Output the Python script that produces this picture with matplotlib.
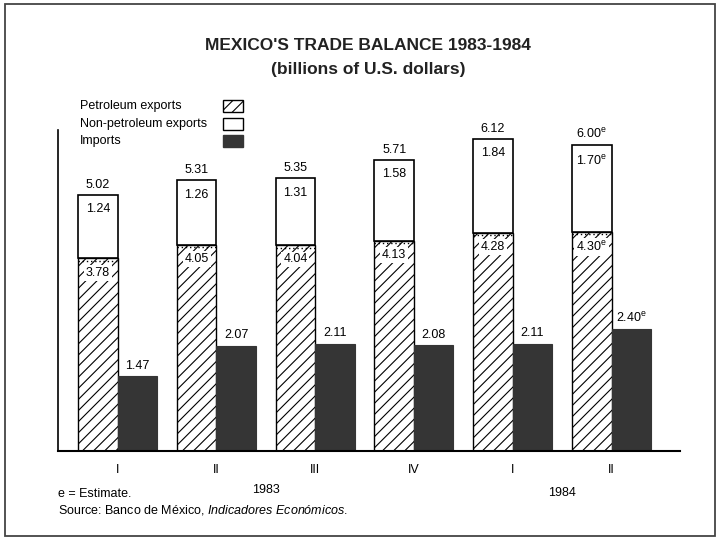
import numpy as np
import matplotlib.pyplot as plt
from matplotlib.patches import Rectangle

plt.rcParams['font.family'] = ['Liberation Sans', 'DejaVu Sans']
plt.rcParams['mathtext.fontset'] = 'custom'
plt.rcParams['mathtext.rm'] = 'Liberation Sans'
plt.rcParams['mathtext.it'] = 'Liberation Sans:italic'
plt.rcParams['hatch.linewidth'] = 0.8

# data (billions of U.S. dollars)
quarters = ['I', 'II', 'III', 'IV', 'I', 'II']
years = ['1983', '1984']
petroleum = [3.78, 4.05, 4.04, 4.13, 4.28, 4.30]
non_petroleum = [1.24, 1.26, 1.31, 1.58, 1.84, 1.70]
totals = [5.02, 5.31, 5.35, 5.71, 6.12, 6.00]
imports = [1.47, 2.07, 2.11, 2.08, 2.11, 2.40]
estimate = [False, False, False, False, False, True]
legend_labels = ['Petroleum exports', 'Non-petroleum exports', 'Imports']

dark = '#353535'

def fmt(v, est):
    s = f'{v:.2f}'
    if est:
        s += r'$^{\mathrm{e}}$'
    return s

fig = plt.figure(figsize=(7.2, 5.41), dpi=100)
ax = fig.add_axes([0.081, 0.166, 0.863, 0.594])

x = np.arange(len(quarters))
w = 0.4
xs = x - w / 2
xi = x + w / 2

ax.bar(xs, petroleum, w, color='white', edgecolor='black', hatch='///', linewidth=1.0)
ax.bar(xs, non_petroleum, w, bottom=petroleum, color='white', edgecolor='black', linewidth=1.2)
ax.bar(xi, imports, w, color=dark, edgecolor=dark, linewidth=0.8)

# dotted boundary under the non-petroleum part
for i in range(len(x)):
    ax.plot([xs[i] - w / 2, xs[i] + w / 2], [petroleum[i] - 0.05] * 2,
            ls=(0, (1, 2)), color='black', lw=1.0)

fs = 9
for i in range(len(x)):
    ax.annotate(fmt(totals[i], estimate[i]), (xs[i], totals[i]), xytext=(0, 3),
                textcoords='offset points', ha='center', va='bottom', fontsize=fs)
    ax.annotate(fmt(non_petroleum[i], estimate[i]), (xs[i], totals[i]), xytext=(0, -6),
                textcoords='offset points', ha='center', va='top', fontsize=fs)
    ax.annotate(fmt(petroleum[i], estimate[i]), (xs[i], petroleum[i]), xytext=(0, -6),
                textcoords='offset points', ha='center', va='top', fontsize=fs,
                bbox=dict(boxstyle='square,pad=0.15', fc='white', ec='none'))
    ax.annotate(fmt(imports[i], estimate[i]), (xi[i], imports[i]), xytext=(0, 3),
                textcoords='offset points', ha='center', va='bottom', fontsize=fs)

ax.set_xlim(-0.6, 5.69)
ax.set_ylim(0, 6.3)
ax.spines['top'].set_visible(False)
ax.spines['right'].set_visible(False)
ax.spines['left'].set_linewidth(1.2)
ax.spines['bottom'].set_linewidth(1.5)
ax.set_yticks([])
ax.set_xticks(x)
ax.set_xticklabels(quarters, fontsize=fs)
ax.tick_params(axis='x', length=0, pad=9)

ax.text(1.5, -0.77, years[0], ha='center', va='center', fontsize=fs)
ax.text(4.5, -0.81, years[1], ha='center', va='center', fontsize=fs)

# legend drawn by hand: text on the left, swatches in a column on the right
leg_y = [0.804, 0.771, 0.739]
leg_style = [dict(fc='white', ec='black', hatch='///'),
             dict(fc='white', ec='black'),
             dict(fc=dark, ec=dark)]
for lab, yy, st in zip(legend_labels, leg_y, leg_style):
    fig.text(0.111, yy, lab, fontsize=fs, va='center')
    fig.patches.append(Rectangle((0.310, yy - 0.011), 0.027, 0.022, transform=fig.transFigure,
                                 lw=1.0, **st))

fig.text(0.511, 0.915, "MEXICO'S TRADE BALANCE 1983-1984", ha='center', va='center',
         fontsize=12.5, fontweight='bold', color='#222222')
fig.text(0.511, 0.871, '(billions of U.S. dollars)', ha='center', va='center',
         fontsize=12.5, fontweight='bold', color='#222222')

fig.text(0.081, 0.087, 'e = Estimate.', fontsize=9, va='center')
fig.text(0.081, 0.057, r'Source: Banco de México, $\mathit{Indicadores\ Económicos.}$',
         fontsize=9, va='center')

fig.patches.append(Rectangle((0.007, 0.01), 0.986, 0.982, transform=fig.transFigure,
                             fill=False, edgecolor='#444444', linewidth=1.3))

fig.savefig('out.png', dpi=100)
